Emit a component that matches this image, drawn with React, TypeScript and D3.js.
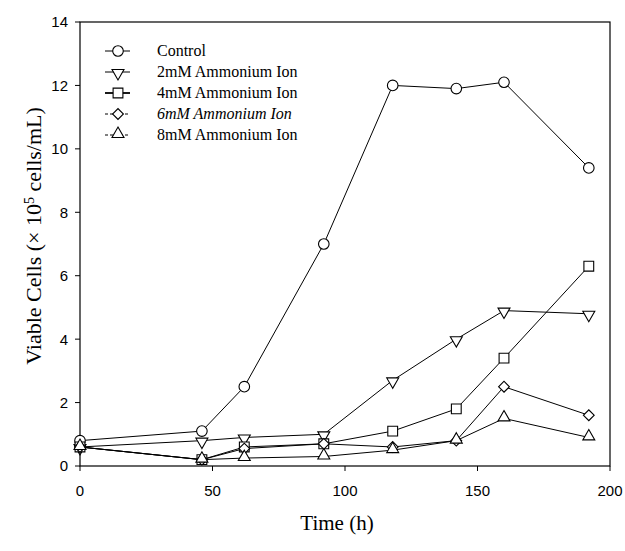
import React from "react";
import * as d3 from "d3";

const times = [0, 46, 62, 92, 118, 142, 160, 192];
const control = [0.8, 1.1, 2.5, 7.0, 12.0, 11.9, 12.1, 9.4];
const mM2 = [0.6, 0.8, 0.9, 1.0, 2.7, 4.0, 4.9, 4.8];
const mM4 = [0.6, 0.2, 0.6, 0.7, 1.1, 1.8, 3.4, 6.3];
const mM6 = [0.6, 0.2, 0.55, 0.7, 0.6, 0.8, 2.5, 1.6];
const mM8 = [0.6, 0.2, 0.25, 0.3, 0.5, 0.8, 1.5, 0.9];
const seriesNames = ["Control", "2mM Ammonium Ion", "4mM Ammonium Ion", "6mM Ammonium Ion", "8mM Ammonium Ion"];
const markerTypes = ["circle", "down", "square", "diamond", "up"];
const xTicks = [0, 50, 100, 150, 200];
const yTicks = [0, 2, 4, 6, 8, 10, 12, 14];

const W = 625, H = 551;
const left = 80, right = 610, top = 22, bottom = 466;
const SANS = "Liberation Sans, Arial, sans-serif";
const SERIF = "Liberation Serif, Times New Roman, serif";

function Marker({ type, x, y }: { type: string; x: number; y: number }) {
  const common = { fill: "white", stroke: "black", strokeWidth: 1.1 };
  const sym =
    type === "circle" ? d3.symbol(d3.symbolCircle, 88) :
    type === "square" ? d3.symbol(d3.symbolSquare, 96) :
    type === "diamond" ? d3.symbol(d3.symbolSquare, 58) :
    d3.symbol(d3.symbolTriangle, 62);
  const rot = type === "diamond" ? 45 : type === "down" ? 180 : 0;
  const dy = type === "down" ? 1 : type === "up" ? -1 : 0;
  return <path d={sym() as string} transform={`translate(${x},${y + dy}) rotate(${rot})`} {...common} />;
}

export default function App() {
  const x = d3.scaleLinear().domain([0, 200]).range([left, right]);
  const y = d3.scaleLinear().domain([0, 14]).range([bottom, top]);
  const all = [control, mM2, mM4, mM6, mM8];
  const line = d3.line<number>().x((_, i) => x(times[i])).y((d) => y(d));
  const legendY = [51, 72, 93, 114, 135];
  const dashes = [undefined, undefined, undefined, "3,2", "3,2"];
  const lw = [1, 1, 1.8, 1, 1];
  return (
    <svg width={W} height={H} style={{ display: "block", position: "absolute", left: 0, top: 0, background: "white" }}>
      <rect x={0} y={0} width={W} height={H} fill="white" />
      <rect x={left} y={top} width={right - left} height={bottom - top} fill="none" stroke="black" strokeWidth={1.2} />
      {yTicks.map((t) => (
        <g key={"y" + t}>
          <line x1={left - 5} x2={left} y1={y(t)} y2={y(t)} stroke="black" />
          <text x={left - 12} y={y(t)} dy="0.36em" textAnchor="end" fontFamily={SANS} fontSize={15}>{t}</text>
        </g>
      ))}
      {xTicks.map((t) => (
        <g key={"x" + t}>
          <line x1={x(t)} x2={x(t)} y1={bottom} y2={bottom + 5} stroke="black" />
          <text x={x(t)} y={bottom + 30} textAnchor="middle" fontFamily={SANS} fontSize={15}>{t}</text>
        </g>
      ))}
      <text x={337} y={530} textAnchor="middle" fontFamily={SERIF} fontSize={21}>Time (h)</text>
      <text transform={`translate(41,236) rotate(-90)`} textAnchor="middle" fontFamily={SERIF} fontSize={22}>
        Viable Cells (× 10<tspan dy={-7} fontSize={14}>5</tspan><tspan dy={7}> cells/mL)</tspan>
      </text>
      {all.map((s, k) => (
        <path key={"l" + k} d={line(s) as string} fill="none" stroke="black" strokeWidth={1} />
      ))}
      {all.map((s, k) =>
        s.map((v, i) => <Marker key={`m${k}-${i}`} type={markerTypes[k]} x={x(times[i])} y={y(v)} />)
      )}
      {seriesNames.map((n, k) => (
        <g key={"lg" + k}>
          <line x1={105} x2={130} y1={legendY[k]} y2={legendY[k]} stroke="black" strokeWidth={lw[k]} strokeDasharray={dashes[k]} />
          <Marker type={markerTypes[k]} x={118} y={legendY[k]} />
          <text x={157} y={legendY[k]} dy="0.33em" fontFamily={SERIF} fontSize={16} fontStyle={k === 3 ? "italic" : "normal"}>{n}</text>
        </g>
      ))}
    </svg>
  );
}
